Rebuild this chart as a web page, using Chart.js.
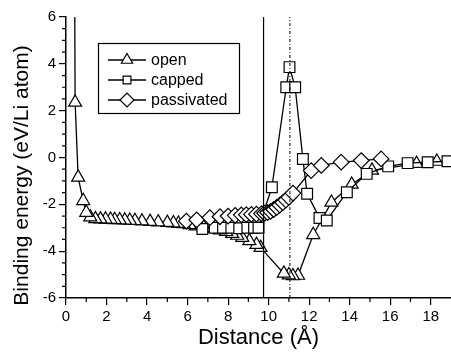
<!DOCTYPE html>
<html>
<head>
<meta charset="utf-8">
<script src="https://cdn.jsdelivr.net/npm/chart.js@4.4.0/dist/chart.umd.min.js"></script>
<style>
html,body{margin:0;padding:0;background:#fff;}
</style>
</head>
<body>
<canvas id="c" width="451" height="361"></canvas>
<script>
// distance (Å) / binding energy (eV per Li atom)
var openX = [0.42, 0.45, 0.6, 0.85, 1.0, 1.2, 1.45, 1.7, 1.95, 2.2, 2.4, 2.65, 2.9, 3.15, 3.4, 3.75, 4.15, 4.55, 5.0, 5.3, 5.55, 5.8,
  6.1, 6.4, 6.8, 7.2, 7.6, 7.9, 8.2, 8.45, 8.7, 9.05, 9.4, 9.6, 10.75, 11.0, 11.2, 11.45, 12.2, 13.1, 14.1, 15.1, 17.3, 18.3];
var openY = [9, 2.35, -0.85, -1.85, -2.35, -2.55, -2.62, -2.63, -2.64, -2.65, -2.66, -2.67, -2.68, -2.69, -2.7, -2.72, -2.74, -2.76, -2.78, -2.8, -2.82, -2.84,
  -2.88, -2.93, -2.98, -3.03, -3.1, -3.17, -3.25, -3.33, -3.42, -3.56, -3.72, -3.85, -4.95, -5.02, -5.06, -5.04, -3.3, -1.92, -1.15, -0.55, -0.26, -0.17];

var cappedX = [6.73, 7.34, 7.75, 8.16, 8.55, 8.95, 9.28, 9.5, 10.16, 10.87, 11.03, 11.31, 11.69, 11.9, 12.51, 12.87, 13.86, 14.84, 15.9, 16.86, 17.85, 18.83];
var cappedY = [-3.05, -3.0, -3.0, -3.0, -3.02, -3.0, -3.0, -3.0, -1.27, 3.0, 3.86, 3.0, -0.06, -1.55, -2.58, -2.69, -1.48, -0.7, -0.38, -0.24, -0.2, -0.16];

var passX = [5.94, 6.45, 7.1, 7.6, 8.0, 8.35, 8.65, 8.9, 9.15, 9.4, 9.65, 9.8, 9.95, 10.1, 10.25, 10.4, 10.55, 10.7, 10.85, 11.0, 11.2,
  12.1, 12.6, 13.58, 14.57, 15.55];
var passY = [-2.72, -2.66, -2.57, -2.53, -2.5, -2.47, -2.45, -2.44, -2.43, -2.42, -2.4, -2.38, -2.35, -2.3, -2.22, -2.13, -2.03, -1.93, -1.82, -1.7, -1.52,
  -0.56, -0.34, -0.2, -0.13, -0.06];

var seriesNames = ['open', 'capped', 'passivated'];
var markerLines = [9.75, 11.05];  // solid, dash-dot
var xTickVals = [0, 2, 4, 6, 8, 10, 12, 14, 16, 18];
var yTickVals = [-6, -4, -2, 0, 2, 4, 6];
var xMin = 0, xMax = 19, yMin = -6, yMax = 6;

function pts(xs, ys) {
  var out = [];
  for (var i = 0; i < xs.length; i++) out.push({x: xs[i], y: ys[i]});
  return out;
}

var FONT = '"Liberation Sans", Arial, Helvetica, sans-serif';
Chart.defaults.font.family = FONT;
Chart.defaults.color = '#000';

function series(name, data, style, rad, ord) {
  return {
    label: name, data: data, showLine: true, order: ord,
    borderColor: '#000', borderWidth: 1.3,
    pointStyle: style, pointRadius: rad, pointHoverRadius: rad,
    pointBackgroundColor: '#fff', pointBorderColor: '#000', pointBorderWidth: 1.2
  };
}

var datasets = [
  series(seriesNames[0], pts(openX, openY).reverse(), 'triangle', 7.5, 3),
  series(seriesNames[1], pts(cappedX, cappedY), 'rect', 7.6, 2),
  series(seriesNames[2], pts(passX, passY), 'rectRot', 7.8, 1)
];
markerLines.forEach(function (v, i) {
  datasets.push({
    label: '', data: [{x: v, y: yMin}, {x: v, y: yMax}], showLine: true, order: 0,
    borderColor: '#000', borderWidth: i === 0 ? 1.2 : 1, borderDash: i === 0 ? [] : [3, 2, 1, 2],
    pointRadius: 0, pointHoverRadius: 0
  });
});

// small extra ticks between the labelled ones
var minorTicks = {
  id: 'minorTicks',
  afterDraw: function (chart) {
    var ctx = chart.ctx, xs = chart.scales.x, ys = chart.scales.y, a = chart.chartArea;
    ctx.save();
    ctx.strokeStyle = '#000';
    ctx.lineWidth = 1.2;
    ctx.beginPath();
    for (var v = 1; v < xMax; v += 2) {
      var px = xs.getPixelForValue(v);
      ctx.moveTo(px, a.bottom); ctx.lineTo(px, a.bottom + 4);
    }
    for (var w = yMin; w <= yMax; w += 0.5) {
      if (w % 2 === 0) continue;
      var py = ys.getPixelForValue(w);
      ctx.moveTo(a.left - 4, py); ctx.lineTo(a.left, py);
    }
    ctx.stroke();
    ctx.restore();
  }
};

// y title sits lower than the plot centre in the original
var yTitle = {
  id: 'yTitle',
  afterDraw: function (chart) {
    var ctx = chart.ctx, a = chart.chartArea;
    ctx.save();
    ctx.translate(22, (a.top + a.bottom) / 2 + 18);
    ctx.rotate(-Math.PI / 2);
    ctx.font = '21px ' + FONT;
    ctx.fillStyle = '#000';
    ctx.textAlign = 'center';
    ctx.textBaseline = 'middle';
    ctx.fillText('Binding energy (eV/Li atom)', 0, 0);
    ctx.restore();
  }
};

// boxed legend inside the plot, upper left
var boxLegend = {
  id: 'boxLegend',
  afterDraw: function (chart) {
    var ctx = chart.ctx;
    var bx = 98, by = 43, bw = 141, bh = 70;
    ctx.save();
    ctx.fillStyle = '#fff';
    ctx.fillRect(bx, by, bw, bh);
    ctx.strokeStyle = '#000';
    ctx.lineWidth = 1.2;
    ctx.strokeRect(bx + 0.5, by + 0.5, bw, bh);
    var sizes = [6.5, 5.5, 7];
    for (var i = 0; i < 3; i++) {
      var ds = chart.data.datasets[i];
      var y = by + 17 + i * 20;
      ctx.beginPath();
      ctx.lineWidth = 1.3;
      ctx.moveTo(bx + 10, y); ctx.lineTo(bx + 48, y);
      ctx.stroke();
      ctx.fillStyle = '#fff';
      ctx.lineWidth = 1.2;
      Chart.helpers.drawPoint(ctx, {pointStyle: ds.pointStyle, radius: sizes[i], rotation: 0, borderWidth: 1.2}, bx + 29, y);
      ctx.fillStyle = '#000';
      ctx.font = '16px ' + FONT;
      ctx.textAlign = 'left';
      ctx.textBaseline = 'middle';
      ctx.fillText(ds.label, bx + 53, y + 1);
    }
    ctx.restore();
  }
};

new Chart(document.getElementById('c').getContext('2d'), {
  type: 'scatter',
  data: {datasets: datasets},
  options: {
    responsive: false,
    animation: false,
    events: [],
    layout: {autoPadding: false, padding: {top: 17, right: 0, left: 0, bottom: 0}},
    plugins: {legend: {display: false}, tooltip: {enabled: false}},
    scales: {
      x: {
        type: 'linear', min: xMin, max: xMax,
        afterBuildTicks: function (s) { s.ticks = xTickVals.map(function (v) { return {value: v}; }); },
        afterFit: function (s) { s.height = 63; },
        grid: {drawOnChartArea: false, color: '#000', lineWidth: 1.2, tickLength: 7},
        border: {color: '#000', width: 1.5},
        ticks: {font: {size: 15}, padding: 3, maxRotation: 0},
        title: {display: true, text: 'Distance (Å)', font: {size: 22}, padding: {top: 0, bottom: 10}}
      },
      y: {
        type: 'linear', min: yMin, max: yMax,
        afterBuildTicks: function (s) { s.ticks = yTickVals.map(function (v) { return {value: v}; }); },
        afterFit: function (s) { s.width = 66; },
        grid: {drawOnChartArea: false, color: '#000', lineWidth: 1.2, tickLength: 7},
        border: {color: '#000', width: 1.5},
        ticks: {font: {size: 15}, padding: 3}
      }
    }
  },
  plugins: [minorTicks, yTitle, boxLegend]
});
</script>
</body>
</html>
